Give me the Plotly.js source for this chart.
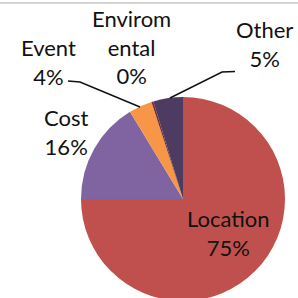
<!DOCTYPE html>
<html>
<head>
<meta charset="utf-8">
<script src="https://cdn.plot.ly/plotly-3.0.1.min.js"></script>
<style>
html,body{margin:0;padding:0;background:#fff;overflow:hidden;}
#wrap{width:298px;height:298px;overflow:hidden;position:relative;}
#chart{width:298px;height:400px;}
</style>
</head>
<body>
<div id="wrap"><div id="chart"></div></div>
<script>
// Data
const categories = ["Location", "Cost", "Event", "Enviromental", "Other"];
const labelTexts = ["Location", "Cost", "Event", "Envirom<br>ental", "Other"];
const values = [75, 16.3, 3.7, 0.3, 4.7];
const colors = ["#C0504D", "#8064A2", "#F79646", "#772C2A", "#4D3B62"];

// pixel -> paper helpers (plot area: x 81..285, y 97..301)
const L = 81, T = 97, S = 204;
const px = x => (x - L) / S;
const py = y => 1 - (y - T) / S;

const total = values.reduce((a, b) => a + b, 0);
const pct = values.map(v => Math.round(v / total * 100) + "%");

// label centers in pixels
const labelPos = [[228, 233], [65.5, 132], [48, 62.5], [131, 46.5], [264.5, 44]];

const annotations = categories.map((c, i) => ({
  xref: "paper", yref: "paper",
  x: px(labelPos[i][0]), y: py(labelPos[i][1]),
  xanchor: "center", yanchor: "middle",
  text: labelTexts[i] + "<br>" + pct[i],
  showarrow: false,
  font: {family: "Lato", size: 22, color: "#111"}
}));

const path = pts => "M " + pts.map(p => px(p[0]) + " " + py(p[1])).join(" L ");

const shapes = [
  {type: "path", xref: "paper", yref: "paper", path: path([[68, 81], [80, 82], [140, 107]]),
   line: {color: "#111", width: 1.5}},
  {type: "path", xref: "paper", yref: "paper", path: path([[235, 71.5], [222, 72], [170, 98]]),
   line: {color: "#111", width: 1.5}},
  {type: "line", xref: "paper", yref: "paper", x0: px(0), x1: px(298), y0: py(3), y1: py(3),
   line: {color: "#d4d4d4", width: 2}}
];

const data = [{
  type: "pie",
  labels: categories,
  values: values,
  sort: false,
  direction: "clockwise",
  rotation: 0,
  textinfo: "none",
  hoverinfo: "none",
  marker: {colors: colors, line: {width: 0}},
  domain: {x: [0, 1], y: [0, 1]},
  showlegend: false
}];

const layout = {
  width: 298, height: 400,
  margin: {l: L, r: 298 - 285, t: T, b: 400 - 301, pad: 0},
  paper_bgcolor: "#fff", plot_bgcolor: "#fff",
  showlegend: false,
  annotations: annotations,
  shapes: shapes
};

Plotly.newPlot("chart", data, layout, {staticPlot: true, displayModeBar: false});
</script>
</body>
</html>
